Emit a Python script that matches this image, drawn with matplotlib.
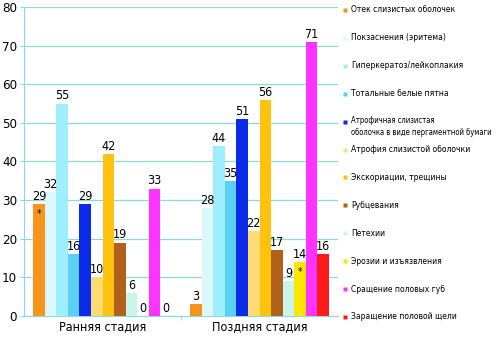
import numpy as np
import matplotlib.pyplot as plt
from matplotlib import font_manager
from matplotlib.lines import Line2D

# узкий шрифт, если есть
names = {f.name for f in font_manager.fontManager.ttflist}
if 'Liberation Sans Narrow' in names:
    plt.rcParams['font.family'] = ['Liberation Sans Narrow', 'DejaVu Sans']
else:
    plt.rcParams['font.family'] = ['DejaVu Sans']
    plt.rcParams['font.stretch'] = 'condensed'

# данные
стадии = ['Ранняя стадия', 'Поздняя стадия']
признаки = [
    'Отек слизистых оболочек',
    'Покзаснения (эритема)',
    'Гиперкератоз/лейкоплакия',
    'Тотальные белые пятна',
    'Атрофичная слизистая\nоболочка в виде пергаментной бумаги',
    'Атрофия слизистой оболочки',
    'Экскориации, трещины',
    'Рубцевания',
    'Петехии',
    'Эрозии и изъязвления',
    'Сращение половых губ',
    'Заращение половой щели',
]
ранняя = [29, 32, 55, 16, 29, 10, 42, 19, 6, 0, 33, 0]
поздняя = [3, 28, 44, 35, 51, 22, 56, 17, 9, 14, 71, 16]
звездочки = [(0, 0), (1, 9)]  # (стадия, признак) с отметкой *

цвета = ['#f7941d', '#dcf8fb', '#9defff', '#5cd0f4', '#0a2be8', '#ffdc73',
         '#ffc20e', '#b0621c', '#c9f6ec', '#ffe500', '#ff33ff', '#ff1a1a']
сетка = '#8fd8df'

W, H = 497, 342
fig = plt.figure(figsize=(W / 100, H / 100), dpi=100)
ax = fig.add_axes([24 / W, 1 - 316 / H, (338 - 24) / W, (316 - 7) / H])

n = len(признаки)
w = 0.885 / n
x = np.arange(len(стадии))
значения = [ранняя, поздняя]
for j in range(n):
    xs = x + (j - (n - 1) / 2) * w
    vals = [значения[0][j], значения[1][j]]
    ax.bar(xs, vals, width=w, color=цвета[j], edgecolor='none', zorder=3)
    for xi, v in zip(xs, vals):
        ax.text(xi, v + 0.3, str(v), ha='center', va='bottom', fontsize=9, zorder=4)

for s, j in звездочки:
    xi = x[s] + (j - (n - 1) / 2) * w
    ax.text(xi, значения[s][j] - 1.2, '*', ha='center', va='top', fontsize=7, zorder=4)

ax.set_xlim(-0.5, 1.5)
ax.set_ylim(0, 80)
ax.set_yticks(range(0, 81, 10))
ax.yaxis.grid(True, color=сетка, lw=0.9, zorder=0)
ax.set_xticks(x)
ax.set_xticklabels(стадии, fontsize=9)
ax.set_xticks([0.5], minor=True)
ax.tick_params(axis='x', which='major', length=0, pad=3)
ax.tick_params(axis='x', which='minor', length=3, color=сетка)
ax.tick_params(axis='y', length=3, color=сетка, labelsize=9.5, pad=2)
for side in ['top', 'right']:
    ax.spines[side].set_visible(False)
ax.spines['left'].set_color(сетка)
ax.spines['bottom'].set_color(сетка)

# легенда справа
for k, (label, c) in enumerate(zip(признаки, цвета)):
    y = 1 - (10 + k * 27.9) / H
    fig.add_artist(Line2D([345 / W], [y], marker='s', markersize=3.2, color=c,
                          markeredgecolor='none', transform=fig.transFigure))
    if '\n' in label:
        fig.text(351 / W, y + 6 / H, label, fontsize=5.5, va='top', linespacing=1.45,
                 transform=fig.transFigure)
    else:
        fig.text(351 / W, y, label, fontsize=6.1, va='center', transform=fig.transFigure)

plt.savefig('out.png', dpi=100)
